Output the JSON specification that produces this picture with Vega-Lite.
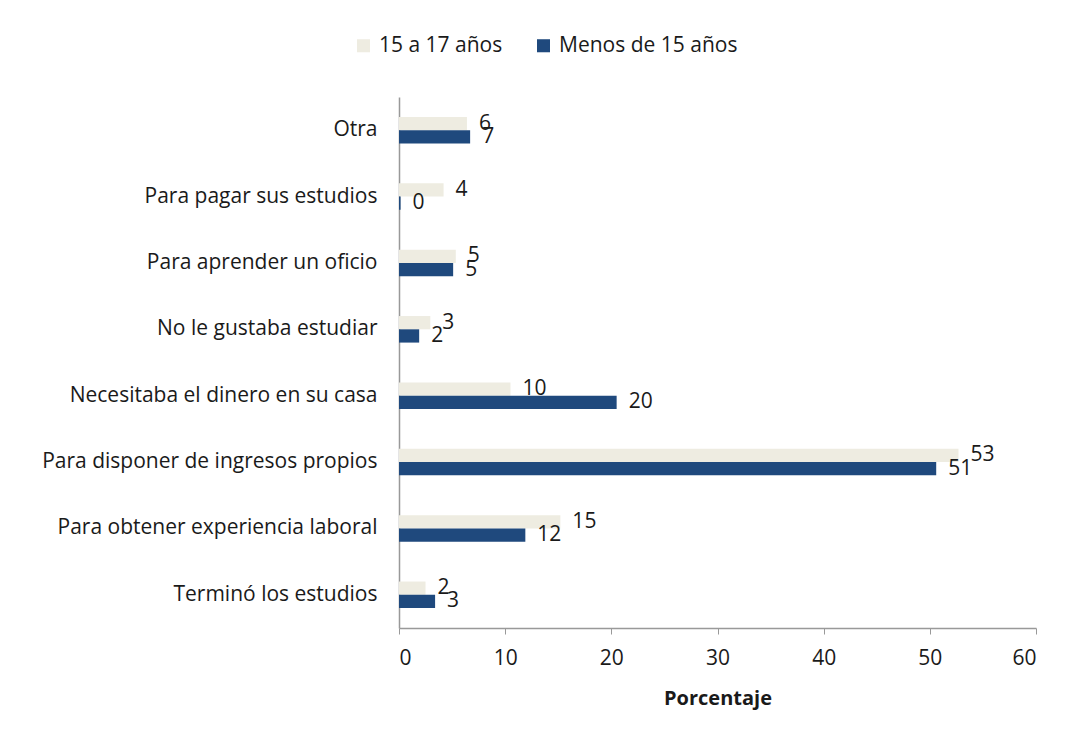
{
  "$schema": "https://vega.github.io/schema/vega-lite/v6.json",
  "width": 637,
  "height": 531,
  "autosize": {"type": "none"},
  "padding": {"left": 399, "top": 97, "right": 31, "bottom": 113},
  "background": "white",
  "config": {
    "view": {"stroke": null},
    "font": "Open Sans",
    "text": {"font": "Open Sans"}
  },
  "data": {
    "values": [
      {"motivo": "Otra", "grupo": "15 a 17 años", "valor": 6.4, "etiqueta": "6"},
      {"motivo": "Otra", "grupo": "Menos de 15 años", "valor": 6.7, "etiqueta": "7"},
      {"motivo": "Para pagar sus estudios", "grupo": "15 a 17 años", "valor": 4.2, "etiqueta": "4"},
      {"motivo": "Para pagar sus estudios", "grupo": "Menos de 15 años", "valor": 0.15, "etiqueta": "0"},
      {"motivo": "Para aprender un oficio", "grupo": "15 a 17 años", "valor": 5.35, "etiqueta": "5"},
      {"motivo": "Para aprender un oficio", "grupo": "Menos de 15 años", "valor": 5.1, "etiqueta": "5"},
      {"motivo": "No le gustaba estudiar", "grupo": "15 a 17 años", "valor": 2.95, "etiqueta": "3"},
      {"motivo": "No le gustaba estudiar", "grupo": "Menos de 15 años", "valor": 1.9, "etiqueta": "2"},
      {"motivo": "Necesitaba el dinero en su casa", "grupo": "15 a 17 años", "valor": 10.5, "etiqueta": "10"},
      {"motivo": "Necesitaba el dinero en su casa", "grupo": "Menos de 15 años", "valor": 20.5, "etiqueta": "20"},
      {"motivo": "Para disponer de ingresos propios", "grupo": "15 a 17 años", "valor": 52.7, "etiqueta": "53"},
      {"motivo": "Para disponer de ingresos propios", "grupo": "Menos de 15 años", "valor": 50.6, "etiqueta": "51"},
      {"motivo": "Para obtener experiencia laboral", "grupo": "15 a 17 años", "valor": 15.2, "etiqueta": "15"},
      {"motivo": "Para obtener experiencia laboral", "grupo": "Menos de 15 años", "valor": 11.9, "etiqueta": "12"},
      {"motivo": "Terminó los estudios", "grupo": "15 a 17 años", "valor": 2.5, "etiqueta": "2"},
      {"motivo": "Terminó los estudios", "grupo": "Menos de 15 años", "valor": 3.4, "etiqueta": "3"}
    ]
  },
  "encoding": {
    "y": {
      "field": "motivo",
      "type": "nominal",
      "sort": ["Otra", "Para pagar sus estudios", "Para aprender un oficio", "No le gustaba estudiar", "Necesitaba el dinero en su casa", "Para disponer de ingresos propios", "Para obtener experiencia laboral", "Terminó los estudios"],
      "scale": {"paddingInner": 0.6, "paddingOuter": 0.3},
      "axis": {
        "title": null,
        "labelFont": "Open Sans",
        "labelFontSize": 21,
        "labelColor": "#1a1a1a",
        "labelPadding": 22,
        "labelLimit": 400,
        "ticks": false,
        "domainColor": "#999999",
        "domainWidth": 1.5,
        "grid": false
      }
    },
    "yOffset": {
      "field": "grupo",
      "type": "nominal",
      "sort": ["15 a 17 años", "Menos de 15 años"]
    },
    "x": {
      "field": "valor",
      "type": "quantitative",
      "scale": {"domain": [0, 60], "nice": false},
      "axis": {
        "title": "Porcentaje",
        "titleFont": "Open Sans",
        "titleFontSize": 20,
        "titleFontWeight": "bold",
        "titleColor": "#1a1a1a",
        "titlePadding": 20,
        "values": [0, 10, 20, 30, 40, 50, 60],
        "labelFont": "Open Sans",
        "labelFontSize": 21,
        "labelColor": "#1a1a1a",
        "labelPadding": 13,
        "tickSize": 6,
        "tickColor": "#999999",
        "domainColor": "#999999",
        "domainWidth": 1.5,
        "grid": false
      }
    }
  },
  "layer": [
    {
      "mark": {"type": "bar", "stroke": null},
      "encoding": {
        "color": {
          "field": "grupo",
          "type": "nominal",
          "sort": ["15 a 17 años", "Menos de 15 años"],
          "scale": {"domain": ["15 a 17 años", "Menos de 15 años"], "range": ["#EEECE1", "#1F497D"]},
          "legend": {
            "title": null,
            "orient": "none",
            "direction": "horizontal",
            "legendX": -46,
            "legendY": -62,
            "symbolType": "square",
            "symbolSize": 170,
            "symbolStrokeWidth": 0,
            "labelFont": "Open Sans",
            "labelFontSize": 21,
            "labelColor": "#1a1a1a",
            "labelLimit": 300,
            "columnPadding": 30,
            "labelOffset": 5
          }
        }
      }
    },
    {
      "mark": {"type": "text", "align": "left", "baseline": "middle", "dx": 12, "fontSize": 21, "font": "Open Sans", "color": "#1a1a1a"},
      "encoding": {
        "text": {"field": "etiqueta"}
      }
    }
  ]
}
